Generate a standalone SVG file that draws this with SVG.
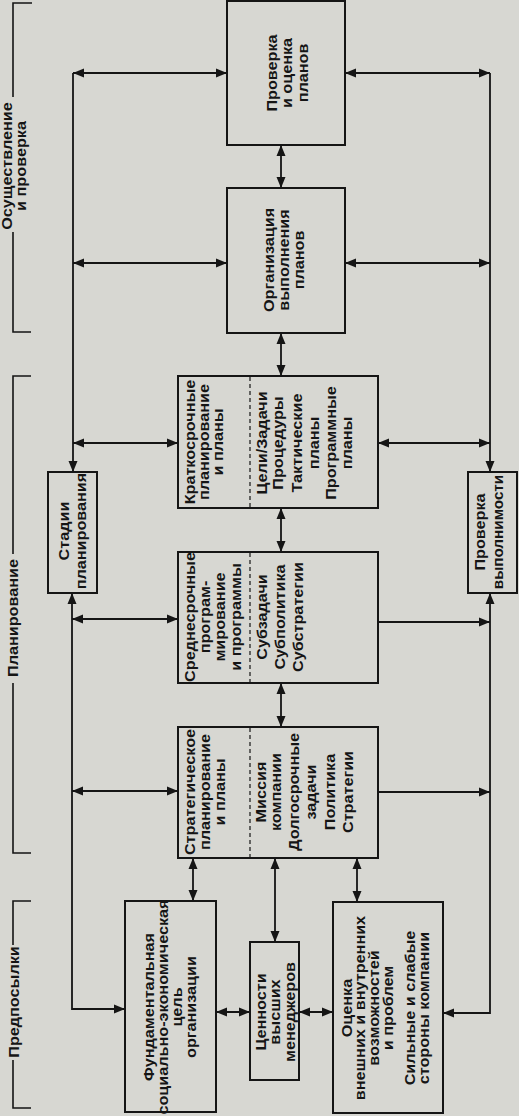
<svg xmlns="http://www.w3.org/2000/svg" width="519" height="1116" viewBox="0 0 519 1116">
<defs>
<marker id="ah" markerUnits="userSpaceOnUse" markerWidth="12" markerHeight="10" refX="11" refY="5" orient="auto-start-reverse" viewBox="0 0 12 10"><path d="M0,0.5 L11,5 L0,9.5 z" fill="#151515"/></marker>
</defs>
<style>
.bx{fill:none;stroke:#151515;stroke-width:2}
.dv{stroke:#151515;stroke-width:1.2;stroke-dasharray:4 3}
.ln{fill:none;stroke:#151515;stroke-width:1.8}
.br{fill:none;stroke:#151515;stroke-width:1.6}
.a2{marker-start:url(#ah);marker-end:url(#ah)}
.a1{marker-end:url(#ah)}
text{font-family:"Liberation Sans",Arial,sans-serif;font-size:15px;font-weight:bold;fill:#151515;text-anchor:middle}
</style>
<rect x="0" y="0" width="519" height="1116" fill="#d7d7d2"/>

<g id="brackets">
<path class="br" d="M32,3 H13 V97 M13,232 V332 H31"/>
<text transform="translate(12,166) rotate(-90) scale(1.08,1)"><tspan x="0">Осуществление</tspan><tspan x="0" dy="14.5">и проверка</tspan></text>
<path class="br" d="M31,376 H13 V554 M13,683 V853 H31"/>
<text transform="translate(18,618) rotate(-90) scale(1.08,1)">Планирование</text>
<path class="br" d="M31,901 H13 V945 M13,1060 V1108 H31"/>
<text transform="translate(19,1002) rotate(-90) scale(1.08,1)">Предпосылки</text>
</g>

<g id="connectors">
<line class="ln a2" x1="73" y1="73" x2="227" y2="73"/>
<line class="ln a1" x1="73" y1="73" x2="73" y2="472"/>
<line class="ln a2" x1="73" y1="263" x2="227" y2="263"/>
<line class="ln a2" x1="73" y1="443" x2="178" y2="443"/>
<path class="ln a2" d="M72,593 V1009 H125"/>
<line class="ln a2" x1="72" y1="619" x2="178" y2="619"/>
<line class="ln a2" x1="72" y1="791" x2="178" y2="791"/>
<line class="ln a2" x1="281" y1="145" x2="281" y2="188"/>
<line class="ln a2" x1="281" y1="333" x2="281" y2="376"/>
<line class="ln a2" x1="281" y1="508" x2="281" y2="552"/>
<line class="ln a2" x1="281" y1="683" x2="281" y2="727"/>
<line class="ln a2" x1="193" y1="858" x2="193" y2="901"/>
<line class="ln a2" x1="275" y1="858" x2="275" y2="942"/>
<line class="ln a2" x1="357" y1="858" x2="357" y2="902"/>
<line class="ln a2" x1="216" y1="1012" x2="250" y2="1012"/>
<line class="ln a2" x1="299" y1="1012" x2="333" y2="1012"/>
<line class="ln a2" x1="345" y1="73" x2="490" y2="73"/>
<line class="ln a1" x1="490" y1="73" x2="490" y2="472"/>
<line class="ln a2" x1="345" y1="263" x2="490" y2="263"/>
<line class="ln a2" x1="378" y1="443" x2="490" y2="443"/>
<path class="ln a2" d="M490,593 V1013 H443"/>
<line class="ln a1" x1="378" y1="622" x2="490" y2="622"/>
<line class="ln a1" x1="378" y1="792" x2="490" y2="792"/>
</g>

<g id="n-proverka-planov">
<rect class="bx" x="227" y="1" width="118" height="144"/>
<text transform="translate(277,73) rotate(-90) scale(1.08,1)"><tspan x="0">Проверка</tspan><tspan x="0" dy="15.5">и оценка</tspan><tspan x="0" dy="15.5">планов</tspan></text>
</g>

<g id="n-organizaciya">
<rect class="bx" x="227" y="188" width="118" height="145"/>
<text transform="translate(273.5,260) rotate(-90) scale(1.08,1)"><tspan x="0">Организация</tspan><tspan x="0" dy="15.5">выполнения</tspan><tspan x="0" dy="15.5">планов</tspan></text>
</g>

<g id="n-stadii">
<rect class="bx" x="48" y="472" width="49" height="121"/>
<text transform="translate(69,531) rotate(-90) scale(1.08,1)"><tspan x="0">Стадии</tspan><tspan x="0" dy="17">планирования</tspan></text>
</g>

<g id="n-kratkosrochnye">
<rect class="bx" x="178" y="376" width="200" height="132"/>
<line class="dv" x1="250" y1="377" x2="250" y2="507"/>
<text transform="translate(194.5,442) rotate(-90) scale(1.08,1)"><tspan x="0">Краткосрочные</tspan><tspan x="0" dy="14.5">планирование</tspan><tspan x="0" dy="14.5">и планы</tspan></text>
<text transform="translate(266.5,443) rotate(-90) scale(1.08,1)"><tspan x="0">Цели/Задачи</tspan><tspan x="0" dy="17">Процедуры</tspan><tspan x="0" dy="19">Тактические</tspan><tspan x="0" dy="17">планы</tspan><tspan x="0" dy="17">Программные</tspan><tspan x="0" dy="16">планы</tspan></text>
</g>

<g id="n-srednesrochnye">
<rect class="bx" x="178" y="552" width="200" height="131"/>
<line class="dv" x1="250" y1="553" x2="250" y2="682"/>
<text transform="translate(194.5,617) rotate(-90) scale(1.08,1)"><tspan x="0">Среднесрочные</tspan><tspan x="0" dy="15.5">програм-</tspan><tspan x="0" dy="15.5">мирование</tspan><tspan x="0" dy="15.5">и программы</tspan></text>
<text transform="translate(266.5,617) rotate(-90) scale(1.08,1)"><tspan x="0">Субзадачи</tspan><tspan x="0" dy="19">Субполитика</tspan><tspan x="0" dy="18">Субстратегии</tspan></text>
</g>

<g id="n-strategicheskoe">
<rect class="bx" x="178" y="727" width="200" height="131"/>
<line class="dv" x1="250" y1="728" x2="250" y2="857"/>
<text transform="translate(194.5,792) rotate(-90) scale(1.08,1)"><tspan x="0">Стратегическое</tspan><tspan x="0" dy="15.5">планирование</tspan><tspan x="0" dy="15.5">и планы</tspan></text>
<text transform="translate(265.5,792) rotate(-90) scale(1.08,1)"><tspan x="0">Миссия</tspan><tspan x="0" dy="16">компании</tspan><tspan x="0" dy="18">Долгосрочные</tspan><tspan x="0" dy="17">задачи</tspan><tspan x="0" dy="19">Политика</tspan><tspan x="0" dy="18">Стратегии</tspan></text>
</g>

<g id="n-proverka-vypolnimosti">
<rect class="bx" x="468" y="472" width="49" height="121"/>
<text transform="translate(484.5,532) rotate(-90) scale(1.08,1)"><tspan x="0">Проверка</tspan><tspan x="0" dy="19" textLength="106" lengthAdjust="spacingAndGlyphs">выполнимости</tspan></text>
</g>

<g id="n-fundamentalnaya">
<rect class="bx" x="125" y="901" width="91" height="211"/>
<text transform="translate(154,1007) rotate(-90) scale(1.08,1)"><tspan x="0">Фундаментальная</tspan><tspan x="0" dy="14">социально-экономическая</tspan><tspan x="0" dy="14">цель</tspan><tspan x="0" dy="14">организации</tspan></text>
</g>

<g id="n-cennosti">
<rect class="bx" x="250" y="942" width="49" height="138"/>
<text transform="translate(265.5,1012) rotate(-90) scale(1.08,1)"><tspan x="0">Ценности</tspan><tspan x="0" dy="15">высших</tspan><tspan x="0" dy="15">менеджеров</tspan></text>
</g>

<g id="n-ocenka">
<rect class="bx" x="333" y="902" width="110" height="211"/>
<text transform="translate(351.5,1008) rotate(-90) scale(1.08,1)"><tspan x="0">Оценка</tspan><tspan x="0" dy="14">внешних и внутренних</tspan><tspan x="0" dy="14">возможностей</tspan><tspan x="0" dy="13.5">и проблем</tspan><tspan x="0" dy="22">Сильные и слабые</tspan><tspan x="0" dy="14">стороны компании</tspan></text>
</g>
</svg>
